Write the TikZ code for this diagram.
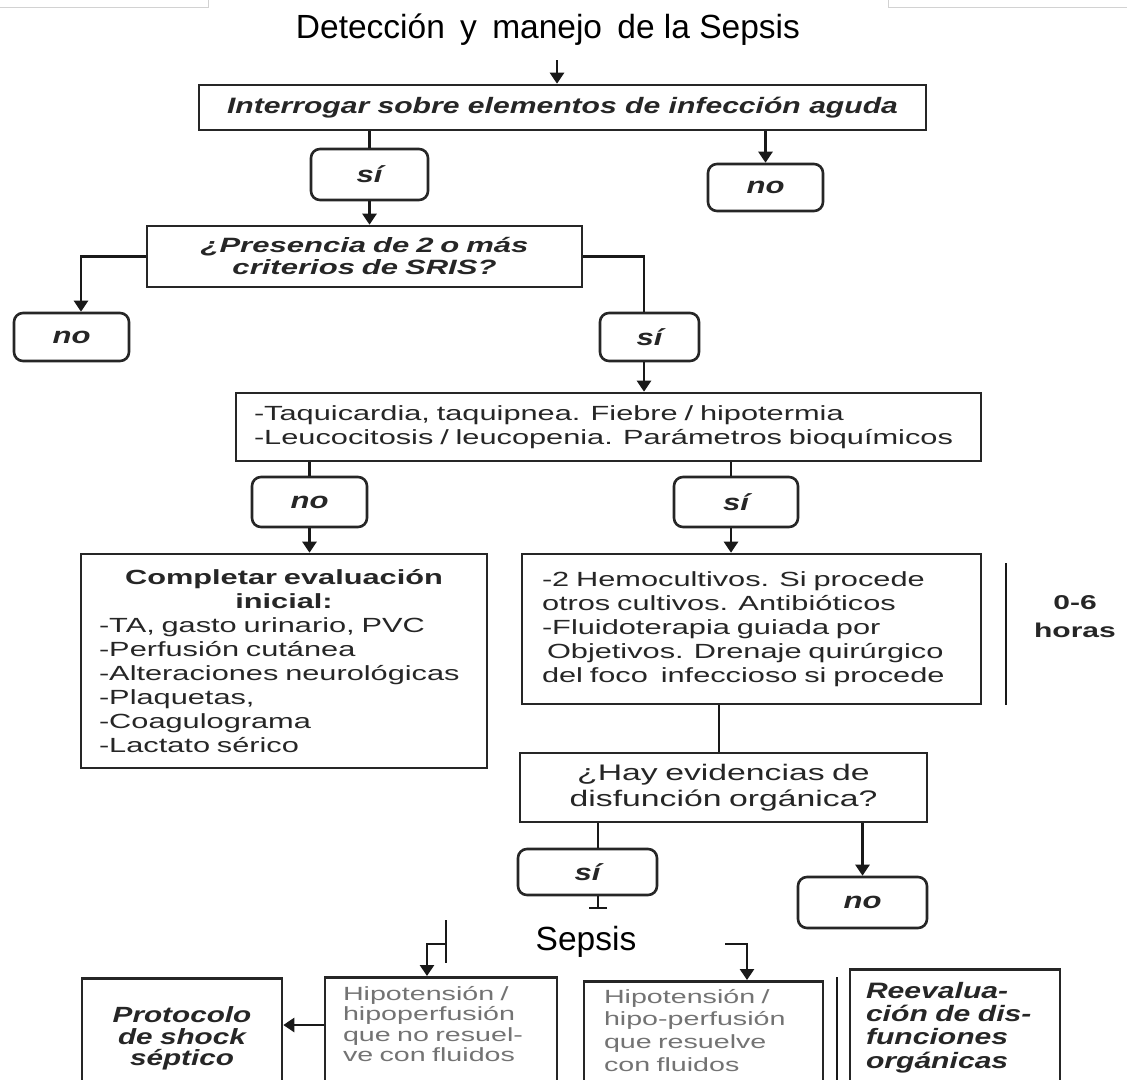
\documentclass[tikz,border=0pt]{standalone}
\usepackage{fontspec}
\setmainfont{Liberation Sans}
\newfontfamily\widefont[FakeStretch=1.5]{Liberation Sans}
\newfontfamily\keyfont[FakeStretch=1.35]{Liberation Sans}
\usetikzlibrary{arrows.meta}

\begin{document}
\begin{tikzpicture}[x = 1pt, y = -1pt]
\tikzstyle{BoxStyle} = [shape = rectangle, draw = black!85, line width = 2.6pt, inner sep = 0pt, text = black!85]
\tikzstyle{KeyStyle} = [BoxStyle, font = \keyfont\bfseries\itshape\fontsize{23pt}{24pt}\selectfont]
\tikzstyle{AnswerStyle} = [BoxStyle, rounded corners = 9pt, font = \keyfont\bfseries\itshape\fontsize{23pt}{24pt}\selectfont]
\tikzstyle{TextStyle} = [BoxStyle, align = left, font = \widefont\fontsize{20.5pt}{24pt}\selectfont]
\tikzstyle{LinkStyle} = [line width = 2.6pt, draw = black!90]
\tikzstyle{ArrowStyle} = [LinkStyle, -{Triangle[length = 11pt, width = 14pt]}]
\useasboundingbox (0,0) rectangle (1127,1079);
\fill[white] (0,0) rectangle (1127,1079);
\draw[gray!35, line width = 1pt] (0,7) -- (208,7) -- (208,0);
\draw[gray!35, line width = 1pt] (1127,7) -- (888,7) -- (888,0);
\node[anchor = base, font = \fontsize{33.5pt}{38pt}\selectfont] (title) at (548,38) {Detección\hspace{6pt} y\hspace{6pt} manejo\hspace{6pt} de la Sepsis};
\coordinate (start) at (557,60);
\node[KeyStyle, font = \keyfont\bfseries\itshape\fontsize{22.3pt}{24pt}\selectfont, minimum width = 727, minimum height = 45] (interrogar) at (562.5,107.5) {Interrogar sobre elementos de infección aguda};
\node[AnswerStyle, minimum width = 117, minimum height = 51] (si1) at (369.5,174.5) {sí};
\node[AnswerStyle, minimum width = 115, minimum height = 47] (no1) at (765.5,187.5) {no};
\node[KeyStyle, align = center, font = \widefont\bfseries\itshape\fontsize{20.7pt}{22pt}\selectfont, text width = 395, minimum width = 435, minimum height = 61] (sris) at (364.5,256.5) {¿Presencia de 2 o más\\ criterios de SRIS?};
\node[AnswerStyle, minimum width = 115, minimum height = 48] (no2) at (71.5,337) {no};
\node[AnswerStyle, minimum width = 99, minimum height = 48] (si2) at (649.5,337) {sí};
\node[TextStyle, inner xsep = 18pt, text width = 709, minimum height = 68] (signos) at (608.5,427) {-Taquicardia, taquipnea. Fiebre / hipotermia\\ -Leucocitosis / leucopenia. Parámetros bioquímicos};
\node[AnswerStyle, minimum width = 115, minimum height = 50] (no3) at (309.5,502) {no};
\node[AnswerStyle, minimum width = 124, minimum height = 50] (si3) at (736,502) {sí};
\node[TextStyle, inner xsep = 18pt, text width = 370, minimum height = 214] (evaluacion) at (284,661) {{\centering\bfseries Completar evaluación\\ inicial:\par}
-TA, gasto urinario, PVC\\ -Perfusión cutánea\\ -Alteraciones neurológicas\\ -Plaquetas,\\ -Coagulograma\\ -Lactato sérico};
\node[TextStyle, inner xsep = 20pt, text width = 419, minimum height = 150] (cultivos) at (751.5,629) {-2 Hemocultivos. Si procede\\ otros cultivos. Antibióticos\\ -Fluidoterapia guiada por\\ \hspace*{5pt}Objetivos. Drenaje quirúrgico\\ del foco\hspace{6pt} infeccioso si procede};
\coordinate (hoursTop) at (1006,563);
\coordinate (hoursBot) at (1006,705);
\node[align = center, text = black!85, font = \widefont\bfseries\fontsize{20pt}{28pt}\selectfont] (horas) at (1075,617) {0-6\\ horas};
\node[TextStyle, align = center, font = \widefont\fontsize{22.5pt}{26pt}\selectfont, inner xsep = 20pt, text width = 367, minimum height = 69] (disfuncion) at (723.5,787.5) {¿Hay evidencias de\\ disfunción orgánica?};
\node[AnswerStyle, minimum width = 139, minimum height = 46] (si4) at (587.5,872) {sí};
\node[AnswerStyle, minimum width = 129, minimum height = 51] (no4) at (862.5,902.5) {no};
\node[anchor = base, font = \fontsize{33.5pt}{38pt}\selectfont] (sepsis) at (586,950) {Sepsis};
\node[KeyStyle, anchor = north, align = center, font = \keyfont\bfseries\itshape\fontsize{22pt}{21.7pt}\selectfont, inner xsep = 10pt, inner ysep = 28pt, text width = 180, text height = 16pt, text depth = 100pt] (protocolo) at (182,977) {Protocolo\\ de shock\\ séptico};
\node[TextStyle, anchor = north, text = black!55, font = \widefont\fontsize{19.1pt}{20.5pt}\selectfont, inner xsep = 18pt, inner ysep = 9pt, text width = 196, text height = 14pt, text depth = 100pt] (hipoNo) at (441,976) {Hipotensión /\\ hipoperfusión\\ que no resuel-\\ ve con fluidos};
\node[TextStyle, anchor = north, text = black!55, font = \widefont\fontsize{19.1pt}{22.6pt}\selectfont, inner xsep = 20pt, inner ysep = 8pt, text width = 199, text height = 14pt, text depth = 100pt] (hipoSi) at (703.5,980) {Hipotensión /\\ hipo-perfusión\\ que resuelve\\ con fluidos};
\node[KeyStyle, anchor = north, align = left, font = \keyfont\bfseries\itshape\fontsize{22.3pt}{23.3pt}\selectfont, inner xsep = 16pt, inner ysep = 12pt, text width = 178, text height = 17pt, text depth = 100pt] (reeval) at (955,968) {Reevalua-\\ ción de dis-\\ funciones\\ orgánicas};
\coordinate (noTwoCol) at (81,0);
\coordinate (siTwoCol) at (644,0);
\coordinate (siThreeCol) at (731,0);
\coordinate (cultCol) at (719,0);
\coordinate (siFourCol) at (598,0);
\coordinate (stub) at (598,909);
\coordinate (sepsisL) at (446,944);
\coordinate (bracketTop) at (446,920);
\coordinate (bracketBot) at (446,963);
\coordinate (hipoCol) at (427,0);
\coordinate (sepsisR) at (725,944);
\coordinate (hipoSiCol) at (747,0);
\coordinate (shockRow) at (0,1025);
\coordinate (splitTop) at (837,977);
\coordinate (splitBot) at (837,1100);
\draw[ArrowStyle] (start) -- (start |- interrogar.north);
\draw[LinkStyle] (si1.north |- interrogar.south) -- (si1.north);
\draw[ArrowStyle] (si1.south) -- (si1.south |- sris.north);
\draw[ArrowStyle] (no1.north |- interrogar.south) -- (no1.north);
\draw[ArrowStyle] (sris.west) -| (no2.north -| noTwoCol);
\draw[LinkStyle] (sris.east) -| (si2.north -| siTwoCol);
\draw[ArrowStyle] (si2.south -| siTwoCol) -- (signos.north -| siTwoCol);
\draw[LinkStyle] (no3.north |- signos.south) -- (no3.north);
\draw[ArrowStyle] (no3.south) -- (no3.south |- evaluacion.north);
\draw[LinkStyle] (signos.south -| siThreeCol) -- (si3.north -| siThreeCol);
\draw[ArrowStyle] (si3.south -| siThreeCol) -- (cultivos.north -| siThreeCol);
\draw[LinkStyle] (hoursTop) -- (hoursBot);
\draw[LinkStyle] (cultivos.south -| cultCol) -- (disfuncion.north -| cultCol);
\draw[LinkStyle] (disfuncion.south -| siFourCol) -- (si4.north -| siFourCol);
\draw[ArrowStyle] (no4.north |- disfuncion.south) -- (no4.north);
\draw[LinkStyle, -{Bar[width = 18pt, line width = 2pt]}] (si4.south -| siFourCol) -- (stub);
\draw[LinkStyle] (bracketTop) -- (bracketBot);
\draw[ArrowStyle] (sepsisL) -| (hipoNo.north -| hipoCol);
\draw[ArrowStyle] (sepsisR) -| (hipoSi.north -| hipoSiCol);
\draw[ArrowStyle] (hipoNo.west |- shockRow) -- (protocolo.east |- shockRow);
\draw[LinkStyle] (splitTop) -- (splitBot);
\end{tikzpicture}
\end{document}
